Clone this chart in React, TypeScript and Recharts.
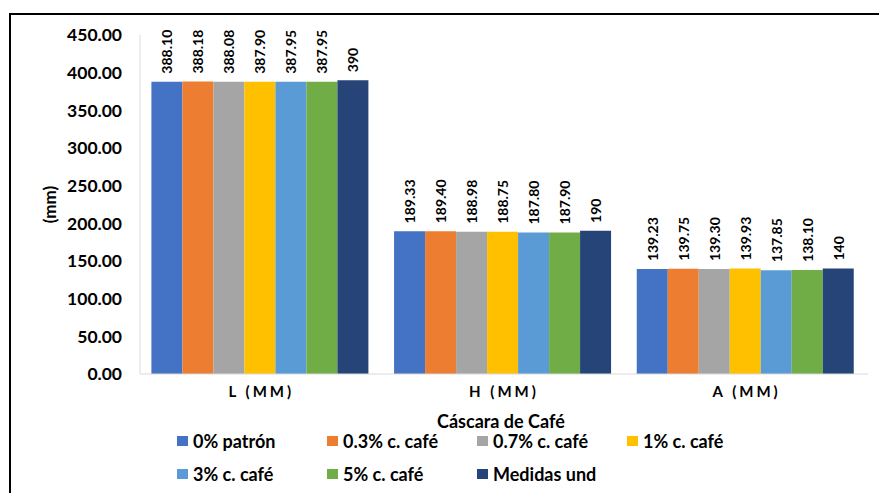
import { BarChart, Bar, XAxis, YAxis, Legend, LabelList } from "recharts";

const categories = ["L (MM)", "H (MM)", "A (MM)"];

const patron = [388.1, 189.33, 139.23];
const cafe03 = [388.18, 189.4, 139.75];
const cafe07 = [388.08, 188.98, 139.3];
const cafe1 = [387.9, 188.75, 139.93];
const cafe3 = [387.95, 187.8, 137.85];
const cafe5 = [387.95, 187.9, 138.1];
const medidas = [390, 190, 140];

const seriesNames = [
  "0% patrón",
  "0.3% c. café",
  "0.7% c. café",
  "1% c. café",
  "3% c. café",
  "5% c. café",
  "Medidas und",
];
const seriesValues = [patron, cafe03, cafe07, cafe1, cafe3, cafe5, medidas];
const colors = ["#4472C4", "#ED7D31", "#A5A5A5", "#FFC000", "#5B9BD5", "#70AD47", "#264478"];

const yTicks = [0, 50, 100, 150, 200, 250, 300, 350, 400, 450];
const legendTitle = "Cáscara de Café";
const yLabel = "(mm)";

const FONT = "Lato, 'Open Sans', sans-serif";

const data = categories.map((cat, i) => {
  const row: Record<string, any> = { cat };
  seriesValues.forEach((vals, s) => {
    row["s" + s] = vals[i];
  });
  return row;
});

// reference prints the "Medidas und" series as plain integers
const fmtValue = (s: number) => (v: number) => (s === 6 ? String(v) : v.toFixed(2));

const rotatedLabel = (fmt: (v: number) => string) => (props: any) => {
  const { x, y, width, value } = props;
  const cx = Number(x) + Number(width) / 2;
  const ty = Number(y) - 8;
  return (
    <text
      x={cx}
      y={ty}
      transform={`rotate(-90 ${cx} ${ty})`}
      textAnchor="start"
      dominantBaseline="central"
      fontSize={14}
      fontWeight={700}
      fill="#000"
      fontFamily={FONT}
    >
      {fmt(Number(value))}
    </text>
  );
};

function LegendBox() {
  return (
    <div style={{ position: "relative", width: 879, height: 75, fontFamily: FONT, fontWeight: 700, color: "#000" }}>
      <div style={{ position: "absolute", left: 437, top: 1, fontSize: 18, lineHeight: "20px", whiteSpace: "nowrap" }}>
        {legendTitle}
      </div>
      {seriesNames.map((name, i) => {
        const col = i < 4 ? i : i - 4;
        const row = i < 4 ? 0 : 1;
        return (
          <div
            key={name}
            style={{
              position: "absolute",
              left: 177 + col * 150,
              top: 21 + row * 33,
              height: 20,
              display: "flex",
              alignItems: "center",
              fontSize: 18,
              whiteSpace: "nowrap",
            }}
          >
            <span style={{ display: "inline-block", width: 11, height: 10, background: colors[i], marginRight: 5 }} />
            {name}
          </div>
        );
      })}
    </div>
  );
}

export default function App() {
  return (
    <div style={{ position: "absolute", left: 0, top: 0, width: 879, height: 493, background: "#fff" }}>
      <div
        style={{
          position: "absolute",
          left: 9,
          top: 13,
          width: 900,
          height: 500,
          borderTop: "2px solid #000",
          borderLeft: "2px solid #000",
        }}
      />
      <BarChart
        width={879}
        height={493}
        data={data}
        margin={{ top: 35, right: 11, left: 60, bottom: 8 }}
        barCategoryGap="4.7%"
        barGap={0}
      >
        <XAxis
          dataKey="cat"
          height={36}
          stroke="#D9D9D9"
          tickLine={false}
          tickSize={0}
          tickMargin={12}
          tick={{ fill: "#000", fontSize: 15, fontWeight: 700, fontFamily: FONT, letterSpacing: 3 }}
        />
        <YAxis
          width={80}
          domain={[0, 450]}
          ticks={yTicks}
          interval={0}
          stroke="#D9D9D9"
          tickLine={false}
          tickSize={0}
          tickMargin={18}
          tickFormatter={(v: number) => v.toFixed(2)}
          tick={{ fill: "#000", fontSize: 17.5, fontWeight: 700, fontFamily: FONT }}
          label={{
            content: (p: any) => {
              const vb = p.viewBox || {};
              const cx = Number(vb.x) - 11;
              const cy = Number(vb.y) + Number(vb.height) / 2;
              return (
                <text
                  x={cx}
                  y={cy}
                  transform={`rotate(-90 ${cx} ${cy})`}
                  textAnchor="middle"
                  dominantBaseline="central"
                  fontSize={17}
                  fontWeight={700}
                  fontFamily={FONT}
                  fill="#000"
                >
                  {yLabel}
                </text>
              );
            },
          }}
        />
        <Legend
          verticalAlign="bottom"
          wrapperStyle={{ left: 0, width: 879 }}
          content={() => <LegendBox />}
        />
        {seriesNames.map((name, s) => (
          <Bar key={name} dataKey={"s" + s} name={name} fill={colors[s]} isAnimationActive={false}>
            <LabelList dataKey={"s" + s} content={rotatedLabel(fmtValue(s))} />
          </Bar>
        ))}
      </BarChart>
    </div>
  );
}
